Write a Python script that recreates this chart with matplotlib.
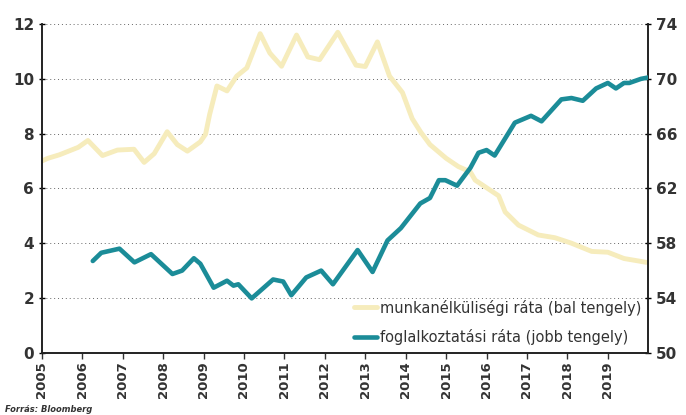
import matplotlib
matplotlib.use("Agg")
import matplotlib.pyplot as plt

# Unemployment rate (left axis, %)
unemp_x = [2005.0, 2005.15, 2005.44, 2005.9, 2006.14, 2006.5, 2006.87, 2007.28, 2007.53, 2007.78,
           2008.1, 2008.35, 2008.6, 2008.92, 2009.05, 2009.15, 2009.33, 2009.58, 2009.82, 2010.07,
           2010.4, 2010.64, 2010.93, 2011.3, 2011.58, 2011.87, 2012.32, 2012.77, 2013.0, 2013.3,
           2013.6, 2013.92, 2014.16, 2014.37, 2014.6, 2015.0, 2015.3, 2015.6, 2015.72, 2016.3,
           2016.46, 2016.79, 2017.28, 2017.69, 2018.1, 2018.6, 2019.0, 2019.4, 2019.8, 2019.95]
unemp_y = [7.0, 7.1, 7.23, 7.5, 7.75, 7.2, 7.4, 7.43, 6.95, 7.27,
           8.07, 7.6, 7.36, 7.7, 7.98, 8.7, 9.74, 9.56, 10.1, 10.4,
           11.65, 10.94, 10.46, 11.6, 10.8, 10.7, 11.7, 10.5, 10.45, 11.35,
           10.1, 9.5, 8.55, 8.06, 7.6, 7.1, 6.8, 6.6, 6.3, 5.73,
           5.14, 4.66, 4.3, 4.2, 4.0, 3.7, 3.67, 3.44, 3.34, 3.3]

# Employment rate (right axis, %)
emp_x = [2006.26, 2006.47, 2006.92, 2007.29, 2007.7, 2008.23, 2008.47, 2008.76, 2008.92, 2009.25,
         2009.58, 2009.74, 2009.86, 2010.19, 2010.72, 2010.97, 2011.17, 2011.54, 2011.91, 2012.2,
         2012.81, 2013.18, 2013.55, 2013.88, 2014.36, 2014.6, 2014.82, 2014.98, 2015.27, 2015.6,
         2015.8, 2016.0, 2016.2, 2016.7, 2017.1, 2017.36, 2017.85, 2018.1, 2018.38, 2018.71,
         2019.0, 2019.2, 2019.4, 2019.53, 2019.82, 2020.0]
emp_y = [56.7, 57.3, 57.6, 56.6, 57.2, 55.75, 56.0, 56.9, 56.5, 54.75,
         55.26, 54.9, 55.0, 53.97, 55.35, 55.2, 54.2, 55.5, 56.0, 55.0,
         57.5, 55.9, 58.2, 59.1, 60.9, 61.3, 62.6, 62.6, 62.2, 63.5,
         64.6, 64.8, 64.4, 66.8, 67.3, 66.9, 68.5, 68.6, 68.4, 69.3,
         69.7, 69.3, 69.7, 69.7, 70.0, 70.1]

years = list(range(2005, 2020))
left_ticks = [0, 2, 4, 6, 8, 10, 12]
right_ticks = [50, 54, 58, 62, 66, 70, 74]

label_unemp = "munkanélküliségi ráta (bal tengely)"
label_emp = "foglalkoztatási ráta (jobb tengely)"

yellow = "#f6ecbc"
teal = "#1b8c98"
dark = "#333333"

fig = plt.figure(figsize=(6.86, 4.15), dpi=100)
ax = fig.add_axes([0.061, 0.15, 0.884, 0.792])
ax2 = ax.twinx()

l1, = ax.plot(unemp_x, unemp_y, color=yellow, lw=3.5, solid_capstyle="round", zorder=2)
l2, = ax2.plot(emp_x, emp_y, color=teal, lw=3.3, solid_capstyle="round", zorder=3)

ax.set_xlim(2005, 2020)
ax.set_ylim(0, 12)
ax2.set_ylim(50, 74)
ax.set_yticks(left_ticks)
ax2.set_yticks(right_ticks)
ax.set_xticks(years)
ax.set_xticklabels([str(y) for y in years], rotation=90, fontsize=9.5,
                   fontweight="bold", color=dark)
ax.tick_params(axis="y", labelsize=11, labelcolor=dark, length=4, width=1, direction="inout")
ax2.tick_params(axis="y", labelsize=11, labelcolor=dark, length=4, width=1, direction="inout")
ax.tick_params(axis="x", length=4, width=1, color=dark, pad=2)
for lab in ax.get_yticklabels() + ax2.get_yticklabels():
    lab.set_fontweight("bold")

ax.grid(axis="y", linestyle=(0, (1, 3)), color="#666666", lw=0.7)
for a in (ax, ax2):
    a.spines["top"].set_visible(False)
    for s in ("left", "right", "bottom"):
        a.spines[s].set_color("#222222")
        a.spines[s].set_linewidth(1.2)

ax2.patch.set_visible(False)

leg = ax2.legend([l1, l2], [label_unemp, label_emp], loc="lower right",
                 bbox_to_anchor=(1.0, 0.0), frameon=False, fontsize=10.5,
                 handlelength=1.6, handletextpad=0.15, labelspacing=0.95,
                 borderaxespad=0.1)
for t in leg.get_texts():
    t.set_color(dark)

fig.text(0.008, 0.008, "Forrás: Bloomberg", fontsize=6, fontstyle="italic",
         fontweight="bold", color=dark)

fig.savefig("out.png", dpi=100)
